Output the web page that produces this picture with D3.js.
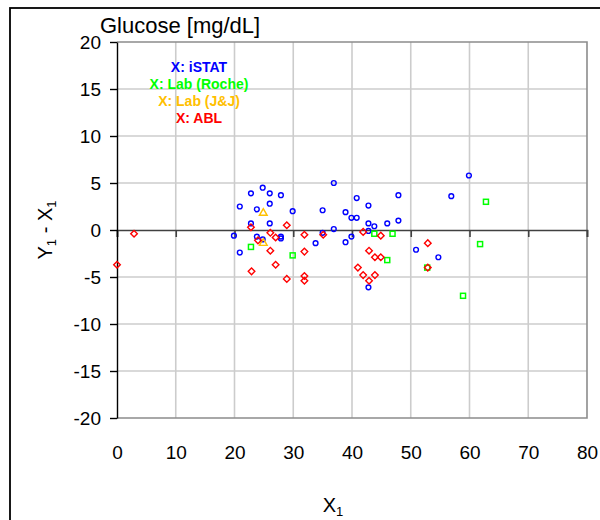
<!DOCTYPE html>
<html>
<head>
<meta charset="utf-8">
<script src="https://cdn.jsdelivr.net/npm/d3@7"></script>
<style>
body { margin: 0; background: #fff; }
text { font-family: Arial, "Liberation Sans", sans-serif; }
</style>
</head>
<body>
<div class="first"></div>
<script>
// differences Y1 - X1 vs X1, one array per comparison method
const istat = [[24.8,4.5],[22.8,3.9],[26.0,3.9],[27.9,3.7],[20.9,2.5],[26.0,2.8],[23.8,2.2],[29.9,2.0],
  [22.8,0.7],[26.0,0.7],[19.9,-0.6],[23.8,-0.7],[24.8,-1.0],[27.9,-0.7],[27.9,-0.9],[20.9,-2.4],
  [33.8,-1.4],[35.0,2.1],[35.0,-0.3],[36.9,5.0],[38.9,1.9],[39.9,1.3],[40.8,1.3],[40.8,3.4],
  [36.9,0.1],[39.9,-0.7],[38.9,-1.3],[42.8,2.6],[47.9,3.7],[42.8,0.7],[43.8,0.4],[46.0,0.7],
  [47.9,1.0],[42.8,-0.1],[50.9,-2.1],[54.7,-2.9],[42.8,-6.1],[56.9,3.6],[59.9,5.8]];
const roche = [[22.8,-1.8],[29.9,-2.7],[43.8,-0.4],[46.9,-0.4],[46.0,-3.2],[52.8,-4.0],
  [62.8,3.0],[61.8,-1.5],[58.9,-7.0]];
const jnj = [[24.9,1.8],[24.9,-1.4]];
const abl = [[2.9,-0.4],[0,-3.7],[22.8,0.3],[28.9,0.5],[26.1,-0.3],[27.0,-0.8],[24.0,-1.1],
  [31.9,-0.5],[35.1,-0.5],[26.1,-2.2],[31.9,-2.3],[27.0,-3.7],[22.9,-4.4],[28.9,-5.2],
  [31.9,-4.9],[31.9,-5.4],[41.9,-0.2],[44.9,-0.6],[42.9,-2.2],[43.9,-2.9],[44.9,-2.9],
  [41.0,-4.0],[41.9,-4.8],[43.9,-4.8],[42.9,-5.4],[52.9,-1.4],[52.9,-4.0]];

const xTicks = [0, 10, 20, 30, 40, 50, 60, 70, 80];
const yTicks = [-20, -15, -10, -5, 0, 5, 10, 15, 20];
const legendLabels = ['X: iSTAT', 'X: Lab (Roche)', 'X: Lab (J&J)', 'X: ABL'];
const legendColors = ['#0000ff', '#00ff00', '#ffc000', '#ff0000'];

const w = 600, h = 520;
const m = {top: 42, left: 117, right: 13, bottom: 102};

const x = d3.scaleLinear().domain([0, 80]).range([m.left, w - m.right]);
const y = d3.scaleLinear().domain([-20, 20]).range([h - m.bottom, m.top]);

const svg = d3.select('.first')
  .append('svg')
  .attr('width', w)
  .attr('height', h);

// outer frame (runs off the page on right/bottom)
svg.append('rect')
  .attr('x', 10).attr('y', 8)
  .attr('width', 640).attr('height', 560)
  .attr('fill', 'none')
  .attr('stroke', '#000')
  .attr('stroke-width', 1.8);

// grid
svg.selectAll('.vgrid')
  .data(xTicks.slice(1, -1))
  .enter().append('line')
  .attr('x1', d => x(d)).attr('x2', d => x(d))
  .attr('y1', y(20)).attr('y2', y(-20))
  .attr('stroke', '#cccccc').attr('stroke-width', 1.6);

svg.selectAll('.hgrid')
  .data(yTicks.filter(d => d != 0 && Math.abs(d) != 20))
  .enter().append('line')
  .attr('x1', x(0)).attr('x2', x(80))
  .attr('y1', d => y(d)).attr('y2', d => y(d))
  .attr('stroke', '#cccccc').attr('stroke-width', 1.6);

// plot border (grey)
svg.append('path')
  .attr('d', `M${x(0)},${y(20)}H${x(80)}V${y(-20)}H${x(0)}`)
  .attr('fill', 'none')
  .attr('stroke', '#8c8c8c')
  .attr('stroke-width', 1.6);

// zero line with ticks
const xAxis = svg.append('g')
  .attr('transform', `translate(0,${y(0)})`)
  .call(d3.axisBottom(x).tickValues(xTicks).tickSize(7).tickFormat(''));
xAxis.select('.domain').attr('stroke', '#404040').attr('stroke-width', 1.6);
xAxis.selectAll('line').attr('stroke', '#404040').attr('stroke-width', 1.6);

// x tick labels at the bottom
const xLab = svg.append('g')
  .attr('transform', `translate(0,${y(-20)})`)
  .call(d3.axisBottom(x).tickValues(xTicks).tickSize(0).tickPadding(28).tickFormat(d => String(d)));
xLab.select('.domain').remove();
xLab.selectAll('text').attr('font-size', 19).attr('fill', '#000')
  .style('font-family', 'Arial, "Liberation Sans", sans-serif');

// y axis
const yAxis = svg.append('g')
  .attr('transform', `translate(${x(0)},0)`)
  .call(d3.axisLeft(y).tickValues(yTicks).tickSize(7).tickPadding(9).tickSizeOuter(0)
    .tickFormat(d => String(d)));
yAxis.select('.domain').attr('stroke', '#000').attr('stroke-width', 1.4);
yAxis.selectAll('line').attr('stroke', '#000').attr('stroke-width', 1.4);
yAxis.selectAll('text').attr('font-size', 19).attr('fill', '#000')
  .style('font-family', 'Arial, "Liberation Sans", sans-serif');

// markers
svg.selectAll('.istat')
  .data(istat).enter().append('circle')
  .attr('cx', d => x(d[0])).attr('cy', d => y(d[1]))
  .attr('r', 2.4)
  .attr('fill', 'none').attr('stroke', legendColors[0]).attr('stroke-width', 1.4);

svg.selectAll('.roche')
  .data(roche).enter().append('rect')
  .attr('x', d => x(d[0]) - 2.5).attr('y', d => y(d[1]) - 2.5)
  .attr('width', 5).attr('height', 5)
  .attr('fill', 'none').attr('stroke', legendColors[1]).attr('stroke-width', 1.5);

const tri = d3.symbol().type(d3.symbolTriangle).size(26);
svg.selectAll('.jnj')
  .data(jnj).enter().append('path')
  .attr('d', tri)
  .attr('transform', d => `translate(${x(d[0])},${y(d[1])})`)
  .attr('fill', 'none').attr('stroke', legendColors[2]).attr('stroke-width', 1.4);

svg.selectAll('.abl')
  .data(abl).enter().append('path')
  .attr('d', 'M0,-3.3L3.3,0L0,3.3L-3.3,0Z')
  .attr('transform', d => `translate(${x(d[0])},${y(d[1])})`)
  .attr('fill', 'none').attr('stroke', legendColors[3]).attr('stroke-width', 1.4);

// legend
svg.selectAll('.legend')
  .data(legendLabels).enter().append('text')
  .attr('x', 199)
  .attr('y', (d, i) => 72 + i * 17)
  .attr('text-anchor', 'middle')
  .attr('font-size', 14)
  .attr('font-weight', 'bold')
  .attr('fill', (d, i) => legendColors[i])
  .text(d => d);

// title
svg.append('text')
  .attr('x', 100).attr('y', 33)
  .attr('font-size', 22)
  .text('Glucose [mg/dL]');

// axis titles
const xt = svg.append('text')
  .attr('x', 333).attr('y', 512)
  .attr('text-anchor', 'middle')
  .attr('font-size', 20);
xt.append('tspan').text('X');
xt.append('tspan').attr('font-size', 13).attr('dy', 4).text('1');

const yt = svg.append('text')
  .attr('transform', 'translate(52,230) rotate(-90)')
  .attr('text-anchor', 'middle')
  .attr('font-size', 20)
  .attr('xml:space', 'preserve');
yt.append('tspan').text('Y');
yt.append('tspan').attr('font-size', 13).attr('dy', 4).text('1');
yt.append('tspan').attr('dy', -4).text(' - X');
yt.append('tspan').attr('font-size', 13).attr('dy', 4).text('1');
</script>
</body>
</html>
